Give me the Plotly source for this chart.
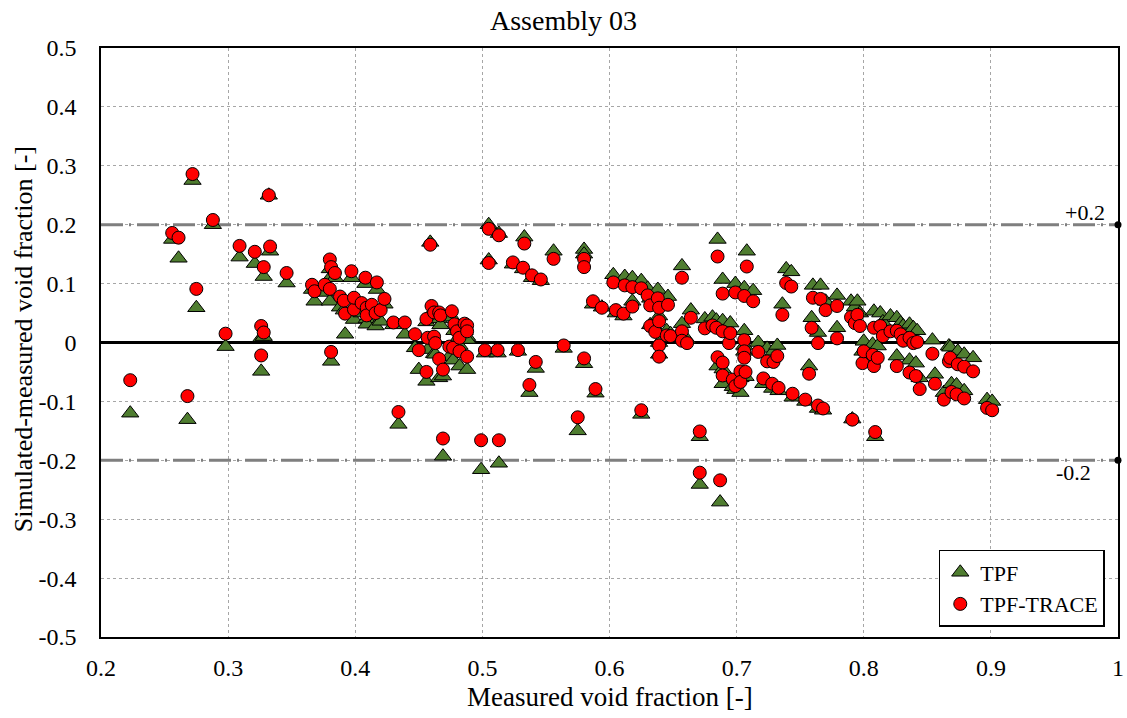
import plotly.graph_objects as go

measured = [0.223, 0.256, 0.261, 0.268, 0.272, 0.275, 0.288, 0.298, 0.309, 0.321,
            0.326, 0.328, 0.326, 0.328, 0.333, 0.332, 0.346, 0.366, 0.368, 0.376,
            0.380, 0.380, 0.381, 0.381, 0.384, 0.388, 0.391, 0.392, 0.397, 0.399,
            0.399, 0.405, 0.408, 0.409, 0.409, 0.413, 0.416, 0.417, 0.420, 0.423,
            0.430, 0.434, 0.439, 0.447, 0.450, 0.456, 0.456, 0.457, 0.459, 0.460,
            0.462, 0.462, 0.463, 0.466, 0.466, 0.467, 0.469, 0.469, 0.474, 0.476,
            0.477, 0.478, 0.480, 0.482, 0.482, 0.486, 0.488, 0.488, 0.488, 0.499,
            0.502, 0.505, 0.505, 0.512, 0.513, 0.513, 0.524, 0.528, 0.532, 0.533,
            0.537, 0.539, 0.542, 0.546, 0.556, 0.564, 0.575, 0.580, 0.580, 0.580,
            0.587, 0.589, 0.594, 0.603, 0.605, 0.611, 0.612, 0.618, 0.618, 0.625,
            0.625, 0.630, 0.632, 0.632, 0.636, 0.638, 0.639, 0.639, 0.639, 0.639,
            0.645, 0.646, 0.648, 0.657, 0.657, 0.657, 0.661, 0.664, 0.671, 0.671,
            0.675, 0.681, 0.684, 0.685, 0.685, 0.687, 0.689, 0.689, 0.689, 0.689,
            0.694, 0.695, 0.697, 0.699, 0.699, 0.703, 0.703, 0.706, 0.706, 0.706,
            0.706, 0.707, 0.708, 0.713, 0.717, 0.721, 0.724, 0.728, 0.729, 0.732,
            0.733, 0.736, 0.739, 0.743, 0.744, 0.754, 0.757, 0.759, 0.760, 0.764,
            0.764, 0.766, 0.768, 0.770, 0.779, 0.779, 0.790, 0.791, 0.793, 0.795,
            0.797, 0.799, 0.800, 0.807, 0.808, 0.808, 0.809, 0.811, 0.813, 0.815,
            0.821, 0.826, 0.826, 0.829, 0.831, 0.836, 0.836, 0.839, 0.841, 0.842,
            0.844, 0.854, 0.856, 0.863, 0.867, 0.868, 0.869, 0.873, 0.874, 0.879,
            0.879, 0.886, 0.897, 0.901]

tpf = [-0.120, 0.175, 0.143, -0.131, 0.275, 0.059, 0.200, -0.007, 0.145, 0.134,
       0.008, 0.010, -0.049, 0.112, 0.155, 0.250, 0.101, 0.090, 0.070, 0.085,
       0.070, 0.125, 0.112, -0.032, 0.110, 0.060, 0.055, 0.014, 0.110, 0.039,
       0.060, 0.050, 0.100, 0.040, 0.031, 0.048, 0.028, 0.090, 0.036, 0.065,
       0.030, -0.139, 0.014, -0.009, -0.046, 0.035, -0.066, -0.012, 0.170, 0.050,
       -0.019, 0.040, -0.020, 0.040, -0.060, 0.030, -0.057, -0.193, -0.024, 0.043,
       -0.030, 0.020, 0.005, -0.040, -0.005, 0.020, 0.010, 0.005, -0.046, -0.216,
       -0.018, 0.200, 0.140, -0.018, 0.185, -0.205, 0.133, -0.015, 0.125, 0.179,
       -0.085, 0.110, -0.044, 0.105, 0.155, -0.010, -0.150, 0.158, 0.150, -0.036,
       0.065, -0.086, 0.060, 0.115, 0.050, 0.045, 0.112, 0.110, 0.070, 0.105,
       -0.122, 0.092, 0.075, 0.030, 0.025, 0.090, 0.045, 0.070, 0.000, -0.020,
       0.020, 0.078, 0.015, 0.130, 0.032, 0.010, 0.005, 0.055, -0.160, -0.241,
       0.040, 0.043, 0.038, 0.175, -0.040, -0.271, 0.107, 0.037, -0.045, -0.070,
       0.020, 0.033, -0.075, 0.100, -0.080, -0.060, -0.085, 0.093, 0.020, -0.005,
       -0.015, -0.058, 0.155, 0.088, 0.000, -0.070, -0.010, -0.078, -0.015, -0.005,
       -0.082, 0.065, 0.125, 0.120, -0.093, -0.100, -0.040, 0.042, 0.097, 0.017,
       -0.112, 0.097, -0.115, 0.070, 0.080, 0.025, 0.070, -0.130, 0.060, 0.070,
       0.050, -0.015, 0.002, -0.003, 0.053, -0.020, -0.160, -0.006, 0.050, 0.035,
       0.045, -0.023, 0.042, 0.033, 0.028, 0.031, -0.030, 0.025, -0.035, 0.020,
       -0.060, 0.004, -0.054, -0.085, -0.006, -0.008, -0.070, -0.072, -0.015, -0.020,
       -0.082, -0.026, -0.097, -0.100]

tpf_trace = [-0.064, 0.186, 0.178, -0.091, 0.286, 0.091, 0.208, 0.015, 0.164, 0.154,
             0.028, 0.017, -0.022, 0.128, 0.163, 0.250, 0.118, 0.098, 0.087, 0.098,
             0.091, 0.141, 0.128, -0.016, 0.118, 0.078, 0.071, 0.049, 0.121, 0.056,
             0.076, 0.067, 0.110, 0.059, 0.046, 0.064, 0.050, 0.102, 0.055, 0.074,
             0.034, -0.118, 0.034, 0.014, -0.013, 0.040, -0.050, 0.008, 0.166, 0.062,
             0.010, 0.051, -0.001, 0.051, -0.028, 0.046, -0.046, -0.163, -0.007, 0.053,
             -0.009, 0.031, 0.019, -0.015, 0.008, 0.032, 0.029, 0.019, -0.024, -0.166,
             -0.013, 0.193, 0.135, -0.013, 0.182, -0.166, 0.136, -0.013, 0.127, 0.168,
             -0.072, 0.114, -0.033, 0.107, 0.142, -0.005, -0.127, 0.142, 0.128, -0.027,
             0.070, -0.079, 0.059, 0.102, 0.055, 0.049, 0.097, 0.094, 0.061, 0.092,
             -0.115, 0.080, 0.063, 0.028, 0.018, 0.075, 0.036, 0.059, -0.005, -0.024,
             0.012, 0.064, 0.011, 0.110, 0.019, 0.003, -0.001, 0.042, -0.151, -0.221,
             0.024, 0.029, 0.025, 0.146, -0.025, -0.234, 0.083, 0.019, -0.034, -0.056,
             -0.001, 0.016, -0.063, 0.085, -0.074, -0.049, -0.067, 0.079, 0.004, -0.015,
             -0.026, -0.050, 0.129, 0.070, -0.016, -0.061, -0.032, -0.070, -0.033, -0.023,
             -0.077, 0.047, 0.101, 0.095, -0.087, -0.097, -0.053, 0.025, 0.076, -0.001,
             -0.107, 0.074, -0.112, 0.055, 0.062, 0.007, 0.043, -0.131, 0.033, 0.047,
             0.028, -0.035, -0.015, -0.021, 0.025, -0.040, -0.152, -0.026, 0.028, 0.011,
             0.019, -0.040, 0.020, 0.014, 0.003, 0.008, -0.051, -0.001, -0.057, 0.001,
             -0.079, -0.019, -0.070, -0.097, -0.032, -0.026, -0.084, -0.088, -0.037, -0.041,
             -0.095, -0.049, -0.111, -0.115]

x_ticks = [0.2, 0.3, 0.4, 0.5, 0.6, 0.7, 0.8, 0.9, 1.0]
x_labels = ["0.2", "0.3", "0.4", "0.5", "0.6", "0.7", "0.8", "0.9", "1"]
y_ticks = [0.5, 0.4, 0.3, 0.2, 0.1, 0.0, -0.1, -0.2, -0.3, -0.4, -0.5]
y_labels = ["0.5", "0.4", "0.3", "0.2", "0.1", "0", "-0.1", "-0.2", "-0.3", "-0.4", "-0.5"]
bounds = [0.2, -0.2]
bound_labels = ["+0.2", "-0.2"]

FONT = "Liberation Serif"
TICKFONT = dict(family=FONT, size=24, color="black")

fig = go.Figure()

for b in bounds:
    fig.add_trace(go.Scatter(x=[0.2, 1.0], y=[b, b], mode="lines",
                             line=dict(color="#7F7F7F", width=3, dash="22px,6px,2px,6px"),
                             showlegend=False, hoverinfo="skip"))
fig.add_trace(go.Scatter(x=[1.0, 1.0], y=bounds, mode="markers",
                         marker=dict(color="black", size=7), cliponaxis=False,
                         showlegend=False, hoverinfo="skip"))
fig.add_trace(go.Scatter(x=[0.2, 1.0], y=[0, 0], mode="lines",
                         line=dict(color="black", width=3), showlegend=False, hoverinfo="skip"))

fig.add_trace(go.Scatter(x=measured, y=tpf, mode="markers", name="TPF",
                         marker=dict(symbol="triangle-up", size=15, color="#4F7D30",
                                     line=dict(color="black", width=1))))
fig.add_trace(go.Scatter(x=measured, y=tpf_trace, mode="markers", name="TPF-TRACE",
                         marker=dict(symbol="circle", size=13, color="#FF0000",
                                     line=dict(color="black", width=1))))

fig.add_annotation(x=0.991, y=bounds[0], text=bound_labels[0], showarrow=False,
                   xanchor="right", yanchor="bottom", yshift=-2,
                   font=dict(family=FONT, size=22, color="black"))
fig.add_annotation(x=0.98, y=bounds[1], text=bound_labels[1], showarrow=False,
                   xanchor="right", yanchor="top", yshift=2,
                   font=dict(family=FONT, size=22, color="black"))

fig.add_annotation(x=0.5, y=-0.102, xref="paper", yref="paper", showarrow=False,
                   text="Measured void fraction [-]", xanchor="center", yanchor="middle",
                   font=dict(family=FONT, size=27, color="black"))
fig.add_annotation(x=-0.076, y=0.505, xref="paper", yref="paper", showarrow=False,
                   text="Simulated-measured void fraction [-]", textangle=-90,
                   xanchor="center", yanchor="middle",
                   font=dict(family=FONT, size=26, color="black"))

fig.update_layout(
    width=1127, height=718,
    margin=dict(l=101, r=9, t=48, b=81),
    plot_bgcolor="white", paper_bgcolor="white",
    font=dict(family=FONT, color="black"),
    title=dict(text="Assembly 03", x=0.5, xref="container", y=0.972, yanchor="middle",
               font=dict(family=FONT, size=28, color="black")),
    xaxis=dict(range=[0.2, 1.0], tickmode="array", tickvals=x_ticks, ticktext=x_labels,
               tickfont=TICKFONT, ticklabelstandoff=8,
               showline=True, linecolor="black", linewidth=1.5, mirror=True,
               showgrid=True, gridcolor="#A6A6A6", griddash="dot", gridwidth=1,
               zeroline=False, ticks="", automargin=False),
    yaxis=dict(range=[-0.5, 0.5], tickmode="array", tickvals=y_ticks, ticktext=y_labels,
               tickfont=TICKFONT, ticklabelstandoff=18,
               showline=True, linecolor="black", linewidth=1.5, mirror=True,
               showgrid=True, gridcolor="#A6A6A6", griddash="dot", gridwidth=1,
               zeroline=False, ticks="", automargin=False),
    legend=dict(x=0.987, y=0.017, xanchor="right", yanchor="bottom",
                bgcolor="white", bordercolor="black", borderwidth=1.5,
                font=dict(family=FONT, size=22, color="black"),
                tracegroupgap=0),
)

fig.write_html("out.html", config={"displayModeBar": False},
               post_script="document.body.style.margin='0';document.body.style.overflow='hidden';")
